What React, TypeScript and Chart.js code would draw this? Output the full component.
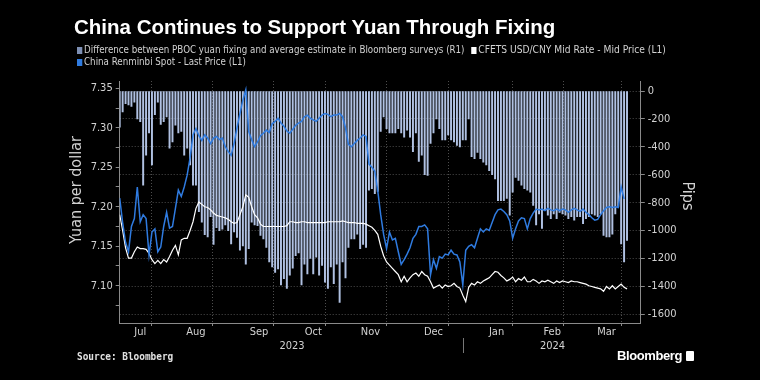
import React, { useEffect, useRef } from 'react';
import { Chart, registerables } from 'chart.js';

Chart.register(...registerables);

// ---------- DATA ----------
const monthNames = ['Jul', 'Aug', 'Sep', 'Oct', 'Nov', 'Dec', 'Jan', 'Feb', 'Mar'];
// trading days that each month occupies on the axis
const monthDays = [15, 23, 20, 17, 22, 21, 22, 16, 21];
const yearLabels = ['2023', '2024'];
const yearFirstMonth = [0, 6];

const leftTicks = [7.075, 7.1, 7.125, 7.15, 7.175, 7.2, 7.225, 7.25, 7.275, 7.3, 7.325, 7.35];
const rightTicks = [0, -100, -200, -300, -400, -500, -600, -700, -800, -900, -1000, -1100, -1200, -1300, -1400, -1500, -1600];

// Difference between PBOC fixing and survey estimate (pips, R1)
const pipsJul = [-260, -150, -90, -100, -110, -80, -200, -220, -675, -460, -300, -530, -170, -80, -240];
const pipsAug = [-220, -185, -410, -365, -245, -300, -290, -460, -410, -530, -675, -675, -865, -940, -1030, -1045, -900, -1100, -980, -1000, -990, -960, -1000];
const pipsSep = [-1095, -1010, -1050, -1140, -1110, -1240, -1130, -940, -960, -965, -1035, -1060, -1120, -1225, -1260, -1300, -1275, -1390, -1345, -1415];
const pipsOct = [-1320, -1270, -1180, -1160, -1390, -1240, -1310, -1200, -1310, -1190, -1320, -1250, -1370, -1415, -1260, -1380, -1240];
const pipsNov = [-1515, -1225, -1340, -1120, -1060, -1060, -1025, -1130, -1100, -1120, -710, -700, -735, -720, -290, -185, -270, -300, -300, -300, -270, -300];
const pipsDec = [-330, -280, -330, -435, -300, -505, -460, -600, -605, -375, -300, -200, -270, -350, -350, -315, -350, -365, -390, -400, -350];
const pipsJan = [-350, -200, -470, -485, -440, -485, -510, -530, -570, -600, -630, -785, -785, -785, -770, -890, -725, -620, -640, -675, -700, -710];
const pipsFeb = [-725, -820, -960, -880, -985, -855, -890, -915, -880, -915, -870, -880, -890, -915, -900, -925];
const pipsMar = [-900, -900, -950, -915, -900, -880, -890, -900, -880, -1035, -1045, -1045, -1025, -880, -830, -1095, -1225, -1070];

// CFETS USD/CNY Mid Rate (L1)
const fixJul = [7.19, 7.17, 7.148, 7.135, 7.135, 7.143, 7.149, 7.147, 7.147, 7.146, 7.141, 7.133, 7.128, 7.132, 7.128];
const fixAug = [7.133, 7.13, 7.137, 7.145, 7.151, 7.139, 7.158, 7.16, 7.16, 7.17, 7.181, 7.198, 7.206, 7.203, 7.2, 7.199, 7.196, 7.192, 7.189, 7.188, 7.187, 7.186, 7.184];
const fixSep = [7.181, 7.179, 7.18, 7.19, 7.2, 7.215, 7.212, 7.2, 7.19, 7.186, 7.178, 7.175, 7.175, 7.175, 7.175, 7.175, 7.175, 7.175, 7.175, 7.176];
const fixOct = [7.181, 7.181, 7.18, 7.18, 7.181, 7.181, 7.18, 7.18, 7.18, 7.18, 7.18, 7.18, 7.18, 7.181, 7.181, 7.181, 7.181];
const fixNov = [7.181, 7.182, 7.181, 7.18, 7.18, 7.18, 7.179, 7.179, 7.179, 7.178, 7.176, 7.174, 7.17, 7.165, 7.15, 7.138, 7.13, 7.126, 7.122, 7.118, 7.114, 7.105];
const fixDec = [7.112, 7.105, 7.11, 7.114, 7.116, 7.112, 7.118, 7.114, 7.112, 7.105, 7.097, 7.099, 7.101, 7.097, 7.101, 7.099, 7.1, 7.103, 7.099, 7.097, 7.088];
const fixJan = [7.08, 7.098, 7.103, 7.101, 7.105, 7.103, 7.106, 7.108, 7.11, 7.114, 7.118, 7.117, 7.113, 7.11, 7.106, 7.108, 7.111, 7.105, 7.109, 7.107, 7.111, 7.105];
const fixFeb = [7.105, 7.108, 7.106, 7.103, 7.106, 7.105, 7.107, 7.105, 7.103, 7.106, 7.104, 7.106, 7.105, 7.104, 7.106, 7.105];
const fixMar = [7.105, 7.104, 7.103, 7.102, 7.1, 7.099, 7.098, 7.097, 7.096, 7.093, 7.099, 7.096, 7.1, 7.096, 7.099, 7.102, 7.098, 7.096];

// China Renminbi Spot (L1)
const spotJul = [7.211, 7.18, 7.155, 7.143, 7.175, 7.185, 7.225, 7.181, 7.19, 7.185, 7.139, 7.168, 7.172, 7.143, 7.149];
const spotAug = [7.175, 7.193, 7.173, 7.175, 7.198, 7.221, 7.213, 7.225, 7.24, 7.262, 7.291, 7.299, 7.29, 7.284, 7.291, 7.287, 7.28, 7.287, 7.289, 7.285, 7.287, 7.276, 7.27];
const spotSep = [7.265, 7.28, 7.3, 7.318, 7.335, 7.348, 7.295, 7.285, 7.276, 7.282, 7.29, 7.293, 7.297, 7.294, 7.305, 7.308, 7.312, 7.306, 7.302, 7.296];
const spotOct = [7.293, 7.298, 7.303, 7.306, 7.308, 7.314, 7.316, 7.312, 7.31, 7.308, 7.312, 7.316, 7.318, 7.317, 7.314, 7.316, 7.316];
const spotNov = [7.318, 7.314, 7.3, 7.279, 7.276, 7.28, 7.284, 7.287, 7.291, 7.289, 7.254, 7.25, 7.245, 7.22, 7.19, 7.165, 7.147, 7.168, 7.158, 7.16, 7.143, 7.127];
const spotDec = [7.133, 7.14, 7.148, 7.16, 7.165, 7.175, 7.175, 7.177, 7.172, 7.114, 7.133, 7.122, 7.137, 7.135, 7.14, 7.139, 7.145, 7.14, 7.139, 7.13, 7.101];
const spotJan = [7.145, 7.15, 7.152, 7.148, 7.16, 7.172, 7.168, 7.172, 7.17, 7.18, 7.19, 7.196, 7.197, 7.194, 7.19, 7.182, 7.16, 7.172, 7.182, 7.186, 7.185, 7.172];
const spotFeb = [7.185, 7.192, 7.197, 7.196, 7.197, 7.195, 7.198, 7.196, 7.195, 7.197, 7.195, 7.197, 7.196, 7.193, 7.196, 7.198];
const spotMar = [7.196, 7.194, 7.197, 7.193, 7.19, 7.186, 7.183, 7.184, 7.19, 7.195, 7.199, 7.2, 7.199, 7.2, 7.199, 7.225, 7.21, null];

const pips = [...pipsJul, ...pipsAug, ...pipsSep, ...pipsOct, ...pipsNov, ...pipsDec, ...pipsJan, ...pipsFeb, ...pipsMar];
const fixing = [...fixJul, ...fixAug, ...fixSep, ...fixOct, ...fixNov, ...fixDec, ...fixJan, ...fixFeb, ...fixMar];
const spot = [...spotJul, ...spotAug, ...spotSep, ...spotOct, ...spotNov, ...spotDec, ...spotJan, ...spotFeb, ...spotMar];

const leftTitle = 'Yuan per dollar';
const rightTitle = 'Pips';

// ---------- STYLE ----------
const NARROW = '"DejaVu Sans Condensed", "Liberation Sans", sans-serif';
const BAR_COLOR = '#b0c1e2';
const BAR_LEGEND = '#7d8fb3';
const SPOT_COLOR = '#2f7be0';
const TEXT = '#d2d2d2';

// month boundaries / mid points on the day-index axis
const bounds: number[] = [-0.5];
monthDays.forEach((d, k) => bounds.push(bounds[k] + d));
type TickDef = { value: number; label: string; boundary: boolean };
const xTickDefs: TickDef[] = [];
monthNames.forEach((m, k) => {
  xTickDefs.push({ value: bounds[k + 1], label: '', boundary: true });
  xTickDefs.push({ value: (bounds[k] + bounds[k + 1]) / 2, label: m, boundary: false });
});
xTickDefs.sort((a, b) => a.value - b.value);

const toPoints = (arr: (number | null)[]) => arr.map((v, i) => ({ x: i, y: v }));

const extrasPlugin = {
  id: 'extras',
  afterDraw(chart: any) {
    const xs = chart.scales.x;
    const { ctx, chartArea } = chart;
    ctx.save();
    ctx.fillStyle = TEXT;
    ctx.font = `11px ${NARROW}`;
    ctx.textAlign = 'center';
    ctx.textBaseline = 'middle';
    const edges = yearFirstMonth.map((m) => Math.max(xs.getPixelForValue(bounds[m]), chartArea.left));
    edges.push(chartArea.right);
    yearLabels.forEach((lab, k) => {
      ctx.fillText(lab, (edges[k] + edges[k + 1]) / 2, chartArea.bottom + 23);
    });
    for (let k = 1; k < yearLabels.length; k++) {
      const sx = Math.round(edges[k]) - 0.5;
      ctx.strokeStyle = '#777';
      ctx.lineWidth = 1;
      ctx.beginPath();
      ctx.moveTo(sx, chartArea.bottom + 15);
      ctx.lineTo(sx, chartArea.bottom + 30);
      ctx.stroke();
    }
    // axis titles
    ctx.font = `16px ${NARROW}`;
    ctx.save();
    ctx.translate(chartArea.left - 43, chartArea.top + 109);
    ctx.rotate(-Math.PI / 2);
    ctx.fillText(leftTitle, 0, 0);
    ctx.restore();
    ctx.save();
    ctx.translate(chartArea.right + 46, chartArea.top + 115);
    ctx.rotate(Math.PI / 2);
    ctx.fillText(rightTitle, 0, 0);
    ctx.restore();
    ctx.restore();
  },
};

function ChartCanvas() {
  const ref = useRef<HTMLCanvasElement>(null);
  useEffect(() => {
    if (!ref.current) return;
    const chart = new Chart(ref.current, {
      type: 'bar',
      data: {
        datasets: [
          {
            type: 'line',
            label: 'China Renminbi Spot - Last Price (L1)',
            data: toPoints(spot) as any,
            yAxisID: 'y',
            borderColor: SPOT_COLOR,
            borderWidth: 1.5,
            pointRadius: 0,
            tension: 0,
            order: 1,
          },
          {
            type: 'line',
            label: 'CFETS USD/CNY Mid Rate - Mid Price (L1)',
            data: toPoints(fixing) as any,
            yAxisID: 'y',
            borderColor: '#ffffff',
            borderWidth: 1.2,
            pointRadius: 0,
            tension: 0,
            order: 2,
          },
          {
            type: 'bar',
            label: 'Difference between PBOC yuan fixing and average estimate in Bloomberg surveys (R1)',
            data: toPoints(pips) as any,
            yAxisID: 'yR',
            backgroundColor: BAR_COLOR,
            barThickness: 1.3,
            order: 3,
          },
        ] as any,
      },
      options: {
        responsive: false,
        animation: false,
        devicePixelRatio: 1,
        layout: { padding: { left: 62, right: 60.6, top: 81, bottom: 0 } },
        plugins: { legend: { display: false }, tooltip: { enabled: false }, title: { display: false } },
        scales: {
          x: {
            type: 'linear',
            bounds: 'data',
            min: 0,
            max: 177.7,
            offset: false,
            afterBuildTicks: (s: any) => {
              s.ticks = xTickDefs.map((t) => ({ value: t.value }));
            },
            afterFit: (s: any) => {
              s.height = 57;
            },
            ticks: {
              autoSkip: false,
              maxRotation: 0,
              minRotation: 0,
              padding: 0,
              color: TEXT,
              font: { family: NARROW, size: 11 },
              callback: (_v: any, i: number) => xTickDefs[i].label,
            },
            grid: {
              color: (c: any) => (xTickDefs[c.index] && xTickDefs[c.index].boundary ? '#4d4d4d' : 'rgba(0,0,0,0)'),
              tickColor: (c: any) => (xTickDefs[c.index] && xTickDefs[c.index].boundary ? '#8a8a8a' : 'rgba(0,0,0,0)'),
              tickLength: 3,
              lineWidth: 1,
            },
            border: { display: true, color: '#8a8a8a', dash: [1, 2] },
          },
          y: {
            type: 'linear',
            position: 'left',
            min: 7.0528,
            max: 7.3592,
            afterBuildTicks: (s: any) => {
              s.ticks = leftTicks.map((v) => ({ value: v }));
            },
            afterFit: (s: any) => {
              s.width = 57.7;
            },
            ticks: {
              padding: 3,
              color: TEXT,
              font: { family: NARROW, size: 11 },
              callback: (v: any) => (Math.round(v * 1000) % 50 === 0 ? Number(v).toFixed(2) : ''),
            },
            grid: { drawOnChartArea: false, tickLength: 4, tickColor: '#8a8a8a' },
            border: { display: true, color: '#8a8a8a' },
          },
          yR: {
            type: 'linear',
            position: 'right',
            min: -1662.4,
            max: 71.7,
            afterBuildTicks: (s: any) => {
              s.ticks = rightTicks.map((v) => ({ value: v }));
            },
            afterFit: (s: any) => {
              s.width = 58.6;
            },
            ticks: {
              padding: 3,
              color: TEXT,
              font: { family: NARROW, size: 11 },
              callback: (v: any) => (Math.round(v) % 200 === 0 ? String(Math.round(v)) : ''),
            },
            grid: {
              color: (c: any) => (c.tick && Math.round(c.tick.value) % 200 === 0 ? '#4d4d4d' : 'rgba(0,0,0,0)'),
              tickColor: '#8a8a8a',
              tickLength: 4,
              lineWidth: 1,
            },
            border: { display: true, color: '#8a8a8a', dash: [1, 2] },
          },
        },
      } as any,
      plugins: [extrasPlugin],
    });
    return () => chart.destroy();
  }, []);
  return <canvas ref={ref} width={760} height={380} style={{ position: 'absolute', left: 0, top: 0, width: 760, height: 380 }} />;
}

const sq = (color: string): React.CSSProperties => ({
  display: 'inline-block',
  width: 6,
  height: 7,
  background: color,
  marginRight: 2,
  verticalAlign: '-1px',
});

export default function App() {
  return (
    <div style={{ position: 'relative', width: 760, height: 380, background: '#000', overflow: 'hidden' }}>
      <style>{'body{margin:0;background:#000;}'}</style>
      <ChartCanvas />
      <div
        style={{
          position: 'absolute',
          left: 74,
          top: 15,
          color: '#fff',
          font: 'bold 20.5px "Liberation Sans", Arial, sans-serif',
          whiteSpace: 'nowrap',
          lineHeight: '24px',
        }}
      >
        China Continues to Support Yuan Through Fixing
      </div>
      <div
        style={{
          position: 'absolute',
          left: 77,
          top: 44,
          color: TEXT,
          font: `11px ${NARROW}`,
          lineHeight: '12px',
          whiteSpace: 'nowrap',
          transform: 'scaleX(0.88)',
          transformOrigin: '0 0',
        }}
      >
        <div>
          <span style={sq(BAR_LEGEND)} />
          Difference between PBOC yuan fixing and average estimate in Bloomberg surveys (R1)
          <span style={{ ...sq('#ffffff'), marginLeft: 8 }} />
          <span style={{ display: 'inline-block', transform: 'scaleX(1.05)', transformOrigin: '0 0' }}>
            CFETS USD/CNY Mid Rate - Mid Price (L1)
          </span>
        </div>
        <div>
          <span style={sq(SPOT_COLOR)} />
          China Renminbi Spot - Last Price (L1)
        </div>
      </div>
      <div
        style={{
          position: 'absolute',
          left: 77,
          top: 351,
          color: '#e0e0e0',
          font: `bold 10px "DejaVu Sans Mono", "Liberation Mono", monospace`,
          whiteSpace: 'nowrap',
          transform: 'scaleX(0.94)',
          transformOrigin: '0 0',
        }}
      >
        Source: Bloomberg
      </div>
      <div
        style={{
          position: 'absolute',
          left: 617,
          top: 348,
          color: '#fff',
          font: `bold 13px "Liberation Sans", Arial, sans-serif`,
          whiteSpace: 'nowrap',
          display: 'flex',
          alignItems: 'center',
          letterSpacing: '-0.4px',
        }}
      >
        Bloomberg
        <span
          style={{
            display: 'inline-block',
            width: 8,
            height: 10,
            background: '#fff',
            marginLeft: 4,
            borderRadius: 1,
          }}
        />
      </div>
    </div>
  );
}
